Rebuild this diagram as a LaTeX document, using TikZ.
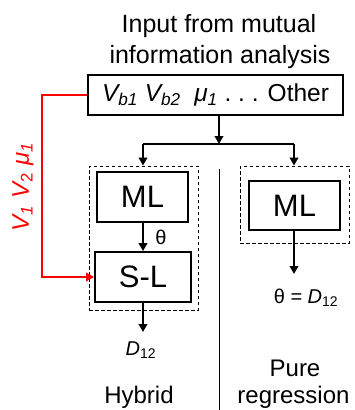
\documentclass[tikz,border=0pt]{standalone}
\usepackage{fontspec}
\setmainfont{Liberation Sans}
\usetikzlibrary{arrows.meta}
\begin{document}
\begin{tikzpicture}[x=1pt,y=-1pt,
  box/.style={draw=black, line width=1.8pt, inner sep=0pt, fill=white},
  dashbox/.style={draw=black, line width=0.9pt, dash pattern=on 3.5pt off 2.5pt, inner sep=0pt},
  arr/.style={line width=2.6pt, -{Triangle[length=8pt,width=8.5pt]}},
  redarr/.style={draw=red, line width=2.8pt, -{Triangle[length=8pt,width=8.5pt]}},
  lbl/.style={inner sep=0pt, font=\fontsize{20}{24}\selectfont},
  grouplabel/.style={inner sep=0pt, font=\fontsize{24}{28}\selectfont},
  big/.style={font=\fontsize{25}{29}\selectfont},
  boxfont/.style={font=\fontsize{31}{35}\selectfont}
]
\useasboundingbox (0,0) rectangle (354,410);
% title
\node[big, anchor=base, inner sep=0pt] (t1) at (219,32) {Input from mutual};
\node[big, anchor=base, inner sep=0pt] (t2) at (220,63) {information analysis};
% top box
\node[box, font=\fontsize{24.5}{28}\selectfont, minimum width=255pt, minimum height=40pt] (top) at (215.5,95)
  {{\itshape V\textsubscript{b1} V\textsubscript{b2}\ \ μ\textsubscript{1}} .\ .\ . Other};
% dashed groups
\node[dashbox, minimum width=109pt, minimum height=144pt] (hyb) at (143.5,238) {};
\node[dashbox, minimum width=109pt, minimum height=77pt] (pur) at (294.5,204.5) {};
% inner boxes
\node[box, boxfont, minimum width=91pt, minimum height=50pt] (ml1) at (142.5,197) {ML};
\node[box, boxfont, minimum width=96pt, minimum height=50pt] (sl) at (143,277) {S-L};
\node[box, boxfont, minimum width=91pt, minimum height=49pt] (ml2) at (294.5,205.5) {ML};
% split
\coordinate (split) at (219,144);
\coordinate (bl) at (143,144);
\coordinate (br) at (294,144);
\draw[arr] (top.south -| split) -- (split);
\draw[line width=2.6pt] (bl) -- (br);
\draw[arr] (bl) -- (hyb.north -| bl);
\draw[arr] (br) -- (pur.north -| br);
% hybrid
\draw[arr] (ml1.south -| sl) -- (sl.north);
\node[lbl, anchor=center] (theta) at (161,237) {θ};
\coordinate (d1tip) at (143,332);
\draw[arr] (sl.south) -- (d1tip);
\node[lbl, anchor=base] (d1) at (141,355) {\itshape D\textsubscript{\upshape 12}};
\node[grouplabel, anchor=base] (hybl) at (139,403) {Hybrid};
% divider
\coordinate (dv1) at (219,169);
\coordinate (dv2) at (219,410);
\draw[line width=1pt] (dv1) -- (dv2);
% pure regression
\coordinate (d2tip) at (294,274);
\draw[arr] (ml2.south -| d2tip) -- (d2tip);
\node[lbl, anchor=base] (d2) at (306,303) {θ {\itshape = D\textsubscript{\upshape 12}}};
\node[grouplabel, anchor=base] (pure) at (295,376) {Pure};
\node[grouplabel, anchor=base] (regr) at (293.5,403) {regression};
% red feedback
\coordinate (r1) at (42,95);
\coordinate (r2) at (42,277);
\draw[redarr] (top.west) -- (r1) -- (r2) -- (sl.west);
\node[text=red, inner sep=0pt, rotate=90, font=\fontsize{24}{28}\selectfont\itshape] (vlab) at (23,187)
  {V\textsubscript{1} V\textsubscript{\upshape 2}\ μ\textsubscript{1}};
\end{tikzpicture}
\end{document}
